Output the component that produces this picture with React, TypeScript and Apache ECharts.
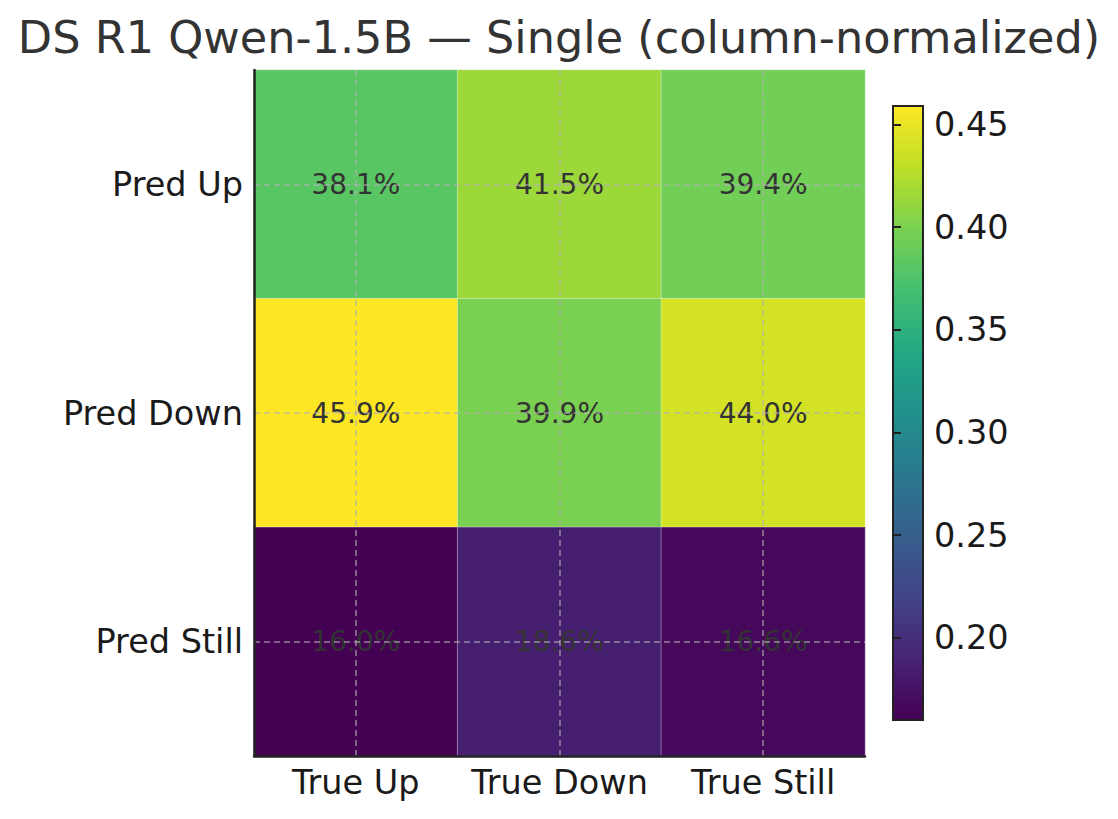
import React, { useEffect, useRef } from "react";
import * as echarts from "echarts";

const titleText = "DS R1 Qwen-1.5B — Single (column-normalized)";
const xCategories = ["True Up", "True Down", "True Still"];
const yCategories = ["Pred Up", "Pred Down", "Pred Still"];
const predUp = [0.381, 0.415, 0.394];
const predDown = [0.459, 0.399, 0.44];
const predStill = [0.16, 0.186, 0.166];
const colorbarTicks = [0.2, 0.25, 0.3, 0.35, 0.4, 0.45];
const valueMin = 0.16;
const valueMax = 0.459;

const viridis = [
  "#440154", "#482475", "#414487", "#355f8d", "#2a788e", "#21918c",
  "#22a884", "#44bf70", "#7ad151", "#bddf26", "#fde725",
];

const FONT = "DejaVu Sans";

export default function App() {
  const ref = useRef<HTMLDivElement>(null);

  useEffect(() => {
    if (!ref.current) return;
    const chart = echarts.init(ref.current, null, { renderer: "svg" });
    const rows = [predUp, predDown, predStill];
    const data: [number, number, number][] = [];
    rows.forEach((row, yi) => row.forEach((v, xi) => data.push([xi, yi, v])));

    const gradient = new echarts.graphic.LinearGradient(
      0, 1, 0, 0,
      viridis.map((c, i) => ({ offset: i / (viridis.length - 1), color: c }))
    );

    const gridLine = { color: "rgba(176,176,176,0.75)", width: 1.5, type: [6, 4] as any };

    chart.setOption({
      animation: false,
      backgroundColor: "#ffffff",
      title: {
        text: titleText,
        left: "center",
        top: 15,
        padding: 0,
        textStyle: { fontFamily: FONT, fontSize: 44.6, fontWeight: "normal", color: "#333333" },
      },
      grid: [
        { left: 254, top: 70, width: 611, height: 686 },
        {
          left: 893, top: 106, width: 30, height: 614,
          show: true, backgroundColor: gradient, borderColor: "#222222", borderWidth: 2,
        },
      ],
      xAxis: [
        {
          type: "category",
          gridIndex: 0,
          data: xCategories,
          axisLine: { lineStyle: { color: "#222222", width: 2.5 } },
          axisTick: { alignWithLabel: true, inside: true, length: 9, lineStyle: { color: "#222222", width: 2 } },
          axisLabel: { interval: 0, fontFamily: FONT, fontSize: 33.5, color: "#1a1a1a", margin: 9 },
          splitLine: { show: false },
          z: 5,
        },
        { type: "value", gridIndex: 1, show: false, min: 0, max: 1 },
      ],
      yAxis: [
        {
          type: "category",
          gridIndex: 0,
          data: yCategories,
          inverse: true,
          axisLine: { lineStyle: { color: "#222222", width: 2.5 } },
          axisTick: { alignWithLabel: true, inside: true, length: 9, lineStyle: { color: "#222222", width: 2 } },
          axisLabel: { interval: 0, fontFamily: FONT, fontSize: 33.5, color: "#1a1a1a", margin: 11 },
          splitLine: { show: false },
          z: 5,
        },
        {
          type: "category",
          gridIndex: 0,
          data: yCategories,
          inverse: true,
          position: "left",
          axisLine: { show: false },
          axisTick: { inside: true, length: 4, lineStyle: { color: "#222222", width: 2 } },
          axisLabel: { show: false },
          splitLine: { show: false },
          z: 5,
        },
        {
          type: "value",
          gridIndex: 1,
          min: valueMin,
          max: valueMax,
          position: "right",
          axisLine: { show: false },
          splitLine: { show: false },
          axisTick: {
            show: true, inside: false, length: 8,
            customValues: colorbarTicks,
            lineStyle: { color: "#222222", width: 2 },
          },
          axisLabel: {
            show: true,
            customValues: colorbarTicks,
            formatter: (v: number) => v.toFixed(2),
            fontFamily: FONT, fontSize: 33.5, color: "#1a1a1a", margin: 11,
          },
        },
      ],
      visualMap: {
        show: false,
        type: "continuous",
        min: valueMin,
        max: valueMax,
        dimension: 2,
        seriesIndex: 0,
        inRange: { color: viridis },
      },
      series: [
        {
          type: "heatmap",
          xAxisIndex: 0,
          yAxisIndex: 0,
          data,
          itemStyle: { borderColor: "rgba(255,255,255,0.35)", borderWidth: 1 },
          label: {
            show: true,
            formatter: (p: any) => (p.value[2] * 100).toFixed(1) + "%",
            fontFamily: FONT,
            fontSize: 28,
            color: "#333333",
          },
          emphasis: { disabled: true },
          markLine: {
            silent: true,
            symbol: ["none", "none"],
            label: { show: false },
            lineStyle: gridLine,
            data: [
              ...xCategories.map((_, i) => ({ xAxis: i })),
              ...yCategories.map((_, i) => ({ yAxis: i })),
            ],
          },
        },
      ],
    });

    return () => chart.dispose();
  }, []);

  return (
    <div
      ref={ref}
      style={{ position: "fixed", left: 0, top: 0, width: 1118, height: 819 }}
    />
  );
}
